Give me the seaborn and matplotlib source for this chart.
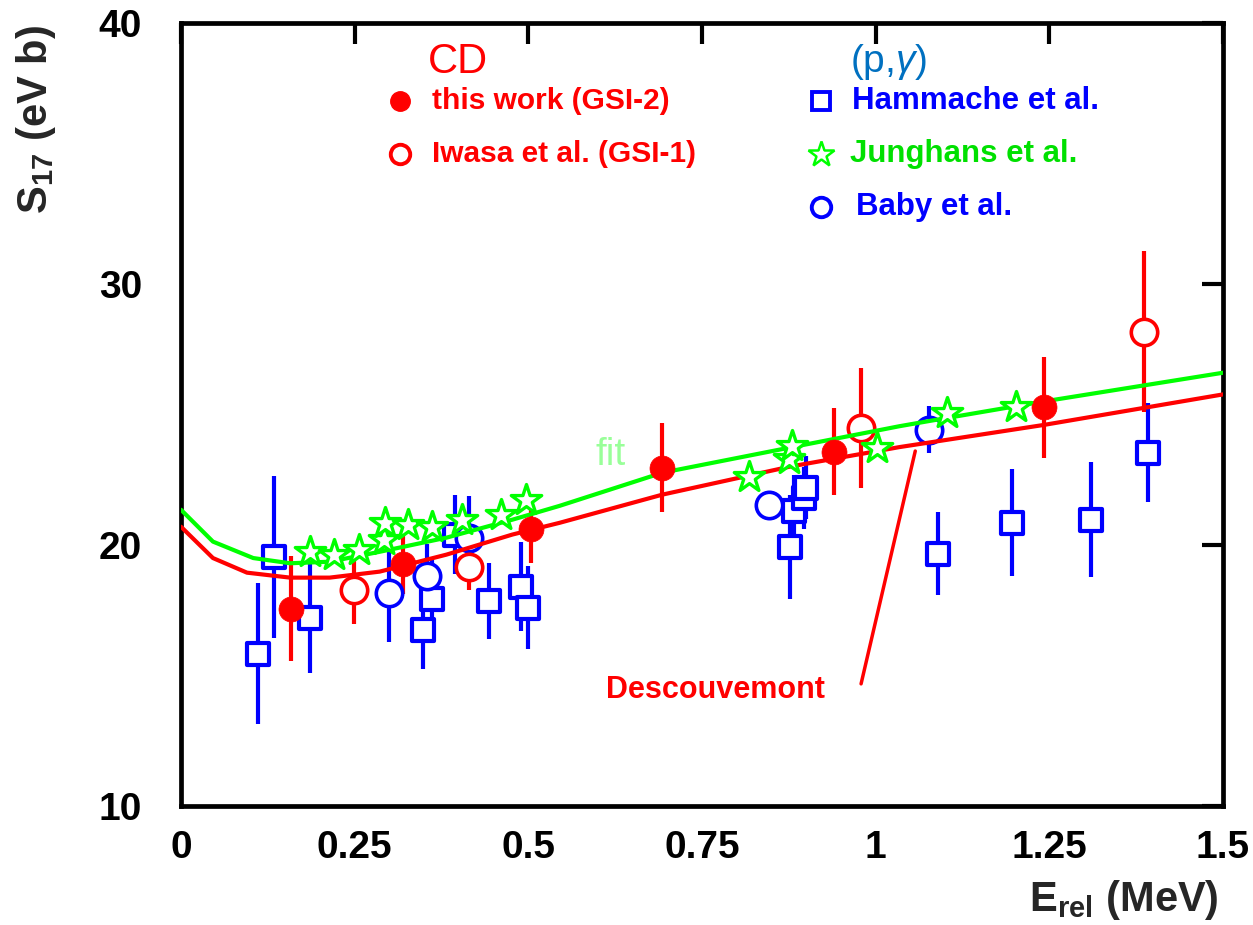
import matplotlib
matplotlib.use("Agg")
import matplotlib.pyplot as plt
import seaborn as sns
import pandas as pd
import numpy as np

# ---------------- data ----------------
# this work (GSI-2)
gsi2_x = [0.158, 0.319, 0.504, 0.693, 0.940, 1.242]
gsi2_y = [17.56, 19.28, 20.61, 22.96, 23.58, 25.27]
gsi2_e = [2.0, 1.15, 1.3, 1.7, 1.65, 1.95]

# Iwasa et al. (GSI-1)
gsi1_x = [0.249, 0.414, 0.979, 1.386]
gsi1_y = [18.29, 19.17, 24.50, 28.18]
gsi1_e = [1.3, 0.9, 2.3, 3.1]

# Hammache et al.
ham_x = [0.111, 0.134, 0.185, 0.349, 0.361, 0.395, 0.444, 0.490, 0.499,
         0.876, 0.882, 0.897, 0.899, 1.090, 1.196, 1.310, 1.392]
ham_y = [15.83, 19.55, 17.21, 16.75, 17.94, 20.40, 17.86, 18.40, 17.60,
         19.93, 21.30, 21.80, 22.20, 19.67, 20.86, 20.97, 23.54]
ham_e = [2.7, 3.1, 2.1, 1.5, 1.6, 1.5, 1.45, 1.7, 1.6,
         2.0, 1.4, 1.2, 1.2, 1.6, 2.05, 2.2, 1.9]

# Junghans et al.
jun_x = [0.185, 0.220, 0.256, 0.292, 0.293, 0.327, 0.362, 0.405, 0.461, 0.497,
         0.818, 0.875, 0.880, 1.002, 1.103, 1.202]
jun_y = [19.74, 19.63, 19.82, 20.20, 20.85, 20.78, 20.70, 20.97, 21.16, 21.74,
         22.62, 23.30, 23.80, 23.73, 25.07, 25.30]

# Baby et al.
baby_x = [0.300, 0.354, 0.414, 0.847, 1.077]
baby_y = [18.17, 18.82, 20.28, 21.55, 24.42]
baby_e = [1.9, 1.2, 1.6, 0.0, 0.9]

# fit curve
fit_x = [0.0, 0.046, 0.104, 0.157, 0.214, 0.286, 0.382, 0.477, 0.545, 0.693,
         0.876, 1.034, 1.077, 1.242, 1.5]
fit_y = [21.35, 20.13, 19.50, 19.30, 19.36, 19.74, 20.28, 20.97, 21.50, 22.77,
         23.73, 24.55, 24.75, 25.50, 26.60]

# Descouvemont curve
des_x = [0.0, 0.046, 0.095, 0.157, 0.214, 0.286, 0.382, 0.477, 0.545, 0.693,
         0.876, 1.034, 1.242, 1.5]
des_y = [20.70, 19.50, 18.94, 18.75, 18.75, 18.98, 19.63, 20.40, 20.85, 21.93,
         23.00, 23.75, 24.60, 25.77]

x_ticks = [0, 0.25, 0.5, 0.75, 1, 1.25, 1.5]
x_tick_labels = ["0", "0.25", "0.5", "0.75", "1", "1.25", "1.5"]
y_ticks = [10, 20, 30, 40]

RED = "#ff0000"
BLUE = "#0000ff"
GREEN = "#00ff00"
GREEN_TXT = "#00e000"
LIGHTGREEN = "#99ff99"
PGBLUE = "#0070c0"

# ---------------- style ----------------
sns.set_theme(style="white")
plt.rcParams["font.family"] = ["Liberation Sans", "DejaVu Sans"]
plt.rcParams["mathtext.fontset"] = "custom"
plt.rcParams["mathtext.rm"] = "Liberation Sans"
plt.rcParams["mathtext.it"] = "Liberation Sans:italic"
plt.rcParams["mathtext.bf"] = "Liberation Sans:bold"

fig = plt.figure(figsize=(12.53, 9.25), dpi=100)
ax = fig.add_axes([181 / 1253, 1 - 806 / 925, 1042 / 1253, 783 / 925])

# curves
sns.lineplot(x=des_x, y=des_y, ax=ax, color=RED, lw=3.0, sort=True, zorder=4)
sns.lineplot(x=fit_x, y=fit_y, ax=ax, color=GREEN, lw=3.0, sort=True, zorder=4)

ebkw = dict(fmt="none", elinewidth=3.0, capsize=0, zorder=2)
ax.errorbar(ham_x, ham_y, yerr=ham_e, ecolor=BLUE, **ebkw)
ax.errorbar(baby_x, baby_y, yerr=baby_e, ecolor=BLUE, **ebkw)
ax.errorbar(gsi1_x, gsi1_y, yerr=gsi1_e, ecolor=RED, **ebkw)
ax.errorbar(gsi2_x, gsi2_y, yerr=gsi2_e, ecolor=RED, **ebkw)

# markers
sns.scatterplot(x=ham_x, y=ham_y, ax=ax, marker="s", s=17 ** 2 * 0.9,
                facecolor="white", edgecolor=BLUE, linewidth=3.0, zorder=3)
sns.scatterplot(x=baby_x, y=baby_y, ax=ax, marker="o", s=19 ** 2,
                facecolor="white", edgecolor=BLUE, linewidth=2.6, zorder=3)
sns.scatterplot(x=gsi1_x, y=gsi1_y, ax=ax, marker="o", s=19 ** 2,
                facecolor="white", edgecolor=RED, linewidth=2.6, zorder=3)
sns.scatterplot(x=gsi2_x, y=gsi2_y, ax=ax, marker="o", s=18 ** 2,
                color=RED, edgecolor=RED, linewidth=0.5, zorder=5)
sns.scatterplot(x=jun_x, y=jun_y, ax=ax, marker="*", s=23 ** 2,
                facecolor="white", edgecolor=GREEN, linewidth=2.4, zorder=5)

# axes
ax.set_xlim(0, 1.5)
ax.set_ylim(10, 40)
ax.set_xticks(x_ticks)
ax.set_xticklabels(x_tick_labels)
ax.set_yticks(y_ticks)
for sp in ax.spines.values():
    sp.set_visible(True)
    sp.set_linewidth(3.4)
    sp.set_color("black")
ax.tick_params(direction="in", length=15, width=3, top=True, right=True,
               labelsize=28, colors="black")
ax.tick_params(axis="x", pad=17)
ax.tick_params(axis="y", pad=28)
for lab in ax.get_xticklabels() + ax.get_yticklabels():
    lab.set_fontweight("bold")

ax.set_ylabel(r"S$_{\mathregular{17}}$ (eV b)", fontsize=30, fontweight="bold")
ax.yaxis.set_label_coords(-0.118, 0.876)
ax.set_xlabel(r"E$_{\mathregular{rel}}$ (MeV)", fontsize=30, fontweight="bold",
              ha="right")
ax.xaxis.set_label_coords(0.996, -0.092)

# legend (drawn manually)
ax.text(0.398, 38.5, "CD", color=RED, fontsize=30, ha="center", va="center")
ax.text(1.019, 38.5, r"(p,$\it{\gamma}$)", color=PGBLUE, fontsize=28,
        ha="center", va="center")

leg_left = [("this work (GSI-2)", 37.0, dict(marker="o", color=RED, ms=14)),
            ("Iwasa et al. (GSI-1)", 34.97,
             dict(marker="o", mfc="white", mec=RED, mew=2.8, ms=14))]
for txt, yy, mk in leg_left:
    ax.plot([0.315], [yy], ls="none", **mk)
    ax.text(0.361, yy, txt, color=RED, fontsize=21.5, fontweight="bold",
            va="center", ha="left")

leg_right = [("Hammache et al.", 37.0, 0.966, BLUE,
              dict(marker="s", mfc="white", mec=BLUE, mew=2.8, ms=13)),
             ("Junghans et al.", 34.97, 0.963, GREEN_TXT,
              dict(marker="*", mfc="white", mec=GREEN, mew=1.8, ms=19)),
             ("Baby et al.", 32.94, 0.971, BLUE,
              dict(marker="o", mfc="white", mec=BLUE, mew=2.8, ms=14))]
for txt, yy, tx, col, mk in leg_right:
    ax.plot([0.922], [yy], ls="none", **mk)
    ax.text(tx, yy, txt, color=col, fontsize=22.5, fontweight="bold",
            va="center", ha="left")

ax.text(0.618, 23.45, "fit", color=LIGHTGREEN, fontsize=28,
        ha="center", va="center")

# Descouvemont annotation
ax.plot([0.979, 1.057], [14.68, 23.6], color=RED, lw=2.5, zorder=4)
ax.text(0.77, 14.45, "Descouvemont", color=RED, fontsize=22,
        fontweight="bold", ha="center", va="center")

fig.savefig("out.png", dpi=100)
